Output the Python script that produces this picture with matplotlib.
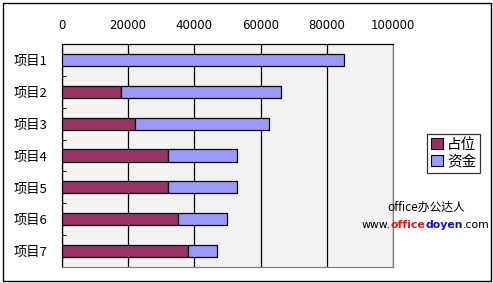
import matplotlib
matplotlib.use("Agg")
import matplotlib.pyplot as plt
from matplotlib.patches import Rectangle, Patch

plt.rcParams['font.family'] = ['Noto Sans CJK SC', 'DejaVu Sans']

categories = ['项目1', '项目2', '项目3', '项目4', '项目5', '项目6', '项目7']
placeholder = [0, 18000, 22000, 32000, 32000, 35000, 38000]
funds = [85000, 48000, 40500, 21000, 21000, 14800, 8800]
series_names = ['占位', '资金']
xticks = [0, 20000, 40000, 60000, 80000, 100000]

W, H = 493, 283
fig = plt.figure(figsize=(W / 100, H / 100), dpi=100)
fig.patch.set_facecolor('white')

# outer border
fig.add_artist(Rectangle((2.5 / W, 2.5 / H), (W - 5) / W, (H - 5) / H,
                         transform=fig.transFigure, fill=False,
                         edgecolor='black', linewidth=1))

x0, x1 = 61.7, 393.3
y0, y1 = 44.3, 266.7
ax = fig.add_axes([x0 / W, (H - y1) / H, (x1 - x0) / W, (y1 - y0) / H])
ax.set_facecolor('#F2F2F2')

pos = list(range(len(categories)))
ax.barh(pos, placeholder, height=0.38, color='#993366', edgecolor='black',
        linewidth=0.9, label=series_names[0], zorder=3)
ax.barh(pos, funds, left=placeholder, height=0.38, color='#9999FF',
        edgecolor='black', linewidth=0.9, label=series_names[1], zorder=3)

ax.set_xlim(0, 100000)
ax.set_ylim(len(categories) - 0.5, -0.5)
ax.set_xticks(xticks)
ax.set_xticklabels([str(v) for v in xticks], family=['DejaVu Sans'])
ax.xaxis.tick_top()
ax.tick_params(axis='x', length=0, pad=9, labelsize=8.5)
ax.grid(axis='x', color='black', linewidth=0.9, zorder=1)

ax.set_yticks(pos)
ax.set_yticklabels(categories)
ax.set_yticks([p + 0.5 for p in pos[:-1]], minor=True)
ax.tick_params(axis='y', which='major', length=0, pad=10, labelsize=9.5)
ax.tick_params(axis='y', which='minor', direction='in', length=3, width=0.8)

ax.spines['top'].set_color('black')
ax.spines['left'].set_color('black')
ax.spines['bottom'].set_color('#808080')
ax.spines['right'].set_color('#808080')
for s in ax.spines.values():
    s.set_linewidth(0.9)

handles = [Patch(facecolor='#993366', edgecolor='black', linewidth=0.8),
           Patch(facecolor='#9999FF', edgecolor='black', linewidth=0.8)]
leg = fig.legend(handles, series_names, loc='upper left',
                 bbox_to_anchor=(427.3 / W, 1 - 134.3 / H),
                 frameon=True, fancybox=False, edgecolor='black',
                 fontsize=10.5, handlelength=0.8, handleheight=0.8,
                 handletextpad=0.3, borderpad=0.25, labelspacing=0.2,
                 borderaxespad=0)
leg.get_frame().set_linewidth(0.9)

fig.text(426 / W, 1 - 207.5 / H, 'office办公达人', ha='center', va='center',
         fontsize=8.5, color='black')

# multi-coloured URL line, fitted into the space right of the plot
parts = [('www.', 'black', 'normal'), ('office', '#EE1111', 'bold'),
         ('doyen', '#1111CC', 'bold'), ('.com', 'black', 'normal')]
ytxt = 1 - 224.5 / H
target_w = 128.0
size = 8.0
texts = [fig.text(0, ytxt, s, ha='left', va='center', fontsize=size,
                  color=c, fontweight=w, family=['DejaVu Sans'])
         for s, c, w in parts]
fig.canvas.draw()
r = fig.canvas.get_renderer()
total = sum(t.get_window_extent(r).width for t in texts)
if total > target_w:
    size = size * target_w / total
    for t in texts:
        t.set_fontsize(size)
    fig.canvas.draw()
    total = sum(t.get_window_extent(r).width for t in texts)
x = 425.5 - total / 2
for t in texts:
    t.set_position((x / W, ytxt))
    x += t.get_window_extent(r).width

fig.savefig('out.png', dpi=100)
